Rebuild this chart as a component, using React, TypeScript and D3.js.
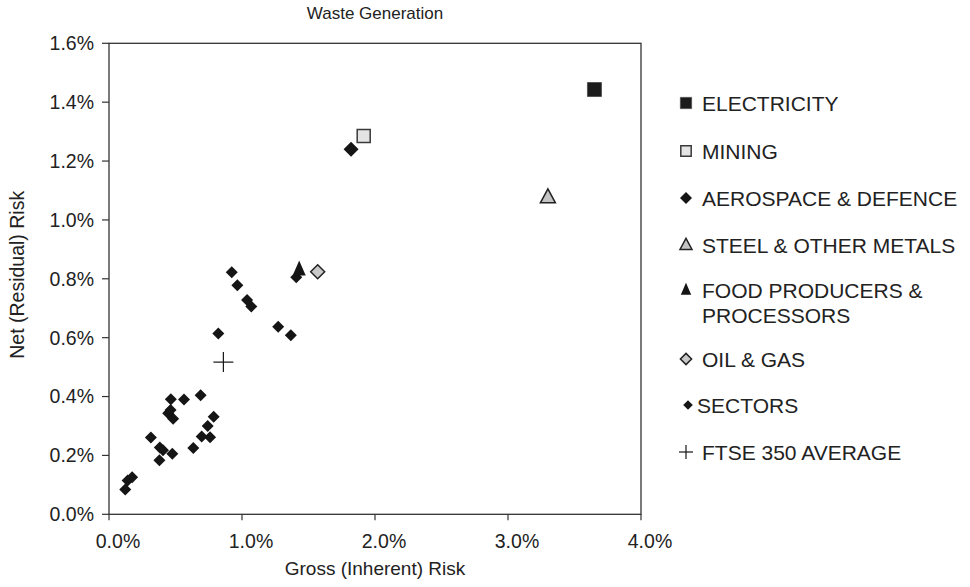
import React from "react";
import * as d3 from "d3";

const W = 970;
const H = 587;

const xTicks = [0, 1, 2, 3, 4];
const yTicks = [0, 0.2, 0.4, 0.6, 0.8, 1.0, 1.2, 1.4, 1.6];

const sectorX = [0.923, 0.965, 1.038, 1.07, 1.272, 1.367, 0.822, 1.408, 0.465, 0.564, 0.689, 0.445, 0.463, 0.482, 0.315, 0.382, 0.406, 0.476, 0.379, 0.634, 0.697, 0.76, 0.742, 0.787, 0.122, 0.14, 0.174];
const sectorY = [0.822, 0.778, 0.728, 0.706, 0.637, 0.608, 0.614, 0.805, 0.391, 0.39, 0.404, 0.343, 0.354, 0.325, 0.261, 0.227, 0.218, 0.206, 0.184, 0.225, 0.264, 0.262, 0.3, 0.331, 0.084, 0.115, 0.126];

const electricity = [3.65, 1.443];
const mining = [1.915, 1.285];
const aerospace = [1.82, 1.24];
const steel = [3.3, 1.077];
const food = [1.43, 0.832];
const oilGas = [1.569, 0.824];
const ftse = [0.86, 0.517];

const legendLabels = [
  ["ELECTRICITY"],
  ["MINING"],
  ["AEROSPACE & DEFENCE"],
  ["STEEL & OTHER METALS"],
  ["FOOD PRODUCERS &", "PROCESSORS"],
  ["OIL & GAS"],
  ["SECTORS"],
  ["FTSE 350 AVERAGE"],
];
const legendKinds = ["sqDark", "sqLight", "diamondBig", "triLight", "triDark", "diamondLight", "diamond", "cross"];

const FONT = "'Liberation Sans', Arial, Helvetica, sans-serif";

function diamond(r: number) {
  return `M0,${-r}L${r},0L0,${r}L${-r},0Z`;
}
function square(r: number) {
  return `M${-r},${-r}H${r}V${r}H${-r}Z`;
}
function triangle(w: number, h: number) {
  return `M0,${-h * 0.6}L${w / 2},${h * 0.4}L${-w / 2},${h * 0.4}Z`;
}

function Marker({ kind, scale = 1 }: { kind: string; scale?: number }) {
  const s = scale;
  switch (kind) {
    case "sqDark":
      return <path d={square(7 * s)} fill="#1c1c1c" stroke="#555" strokeWidth={1} />;
    case "sqLight":
      return <path d={square(6.5 * s)} fill="#e4e4e4" stroke="#3a3a3a" strokeWidth={1.5} />;
    case "diamondBig":
      return <path d={diamond(7.5 * s)} fill="#151515" />;
    case "triLight":
      return <path d={triangle(15 * s, 14 * s)} fill="#c4c4c4" stroke="#222" strokeWidth={1.5} />;
    case "triDark":
      return <path d={triangle(13 * s, 15 * s)} fill="#151515" />;
    case "diamondLight":
      return <path d={diamond(7 * s)} fill="#c8c8c8" stroke="#222" strokeWidth={1.5} />;
    case "diamond":
      return <path d={diamond(6 * s)} fill="#151515" />;
    case "cross":
      return (
        <g stroke="#151515" strokeWidth={1.2}>
          <line x1={-10 * s} x2={10 * s} y1={0} y2={0} />
          <line x1={0} x2={0} y1={-10 * s} y2={10 * s} />
        </g>
      );
    default:
      return null;
  }
}

export default function App() {
  const x = d3.scaleLinear().domain([0, 4]).range([109, 641]);
  const y = d3.scaleLinear().domain([0, 1.6]).range([514.3, 43.3]);
  const fmt = d3.format(".1f");

  const sectors = sectorX.map((v, i) => [v, sectorY[i]]);

  const legendY = [103, 151, 198, 245, 290, 359, 405, 452];

  return (
    <svg
      width={W}
      height={H}
      style={{ position: "absolute", left: 0, top: 0, background: "#fff" }}
      fontFamily={FONT}
    >
      <rect width={W} height={H} fill="#fff" />
      <text x={375} y={19} textAnchor="middle" fontSize={17} fill="#222">
        Waste Generation
      </text>

      {/* frame */}
      <rect
        x={x(0)}
        y={y(1.6)}
        width={x(4) - x(0)}
        height={y(0) - y(1.6)}
        fill="none"
        stroke="#333"
        strokeWidth={1.3}
      />

      {/* y ticks */}
      {yTicks.map((t) => (
        <g key={"y" + t}>
          <line x1={x(0) - 7} x2={x(0)} y1={y(t)} y2={y(t)} stroke="#333" strokeWidth={1.2} />
          <text x={94} y={y(t)} dy="0.35em" textAnchor="end" fontSize={19.5} fill="#222">
            {fmt(t)}%
          </text>
        </g>
      ))}
      {/* x ticks */}
      {xTicks.map((t) => (
        <g key={"x" + t}>
          <line x1={x(t)} x2={x(t)} y1={y(0)} y2={y(0) + 6} stroke="#333" strokeWidth={1.2} />
          <text x={x(t) + 9} y={548} textAnchor="middle" fontSize={19.5} fill="#222">
            {fmt(t)}%
          </text>
        </g>
      ))}

      <text x={375} y={575} textAnchor="middle" fontSize={19} fill="#222">
        Gross (Inherent) Risk
      </text>
      <text
        transform={`translate(24,${(y(0) + y(1.6)) / 2 - 4}) rotate(-90)`}
        textAnchor="middle"
        fontSize={19.5}
        fill="#222"
      >
        Net (Residual) Risk
      </text>

      {/* points */}
      {sectors.map((p, i) => (
        <g key={"s" + i} transform={`translate(${x(p[0])},${y(p[1])})`}>
          <Marker kind="diamond" />
        </g>
      ))}
      <g transform={`translate(${x(food[0])},${y(food[1])})`}>
        <Marker kind="triDark" />
      </g>
      <g transform={`translate(${x(oilGas[0])},${y(oilGas[1])})`}>
        <Marker kind="diamondLight" />
      </g>
      <g transform={`translate(${x(aerospace[0])},${y(aerospace[1])})`}>
        <Marker kind="diamondBig" />
      </g>
      <g transform={`translate(${x(mining[0])},${y(mining[1])})`}>
        <Marker kind="sqLight" />
      </g>
      <g transform={`translate(${x(steel[0])},${y(steel[1])})`}>
        <Marker kind="triLight" />
      </g>
      <g transform={`translate(${x(electricity[0])},${y(electricity[1])})`}>
        <Marker kind="sqDark" />
      </g>
      <g transform={`translate(${x(ftse[0])},${y(ftse[1])})`}>
        <Marker kind="cross" />
      </g>

      {/* legend */}
      {legendLabels.map((lines, i) => (
        <g key={"l" + i} transform={`translate(0,${legendY[i]})`}>
          <g transform={`translate(${legendKinds[i] === "diamond" ? 688 : 686},0)`}>
            <Marker kind={legendKinds[i]} scale={legendKinds[i] === "cross" ? 0.7 : 0.8} />
          </g>
          {lines.map((ln, j) => (
            <text
              key={j}
              x={legendKinds[i] === "diamond" ? 697 : 702}
              y={j * 25}
              dy="0.36em"
              fontSize={21}
              fill="#222"
            >
              {ln}
            </text>
          ))}
        </g>
      ))}
    </svg>
  );
}
